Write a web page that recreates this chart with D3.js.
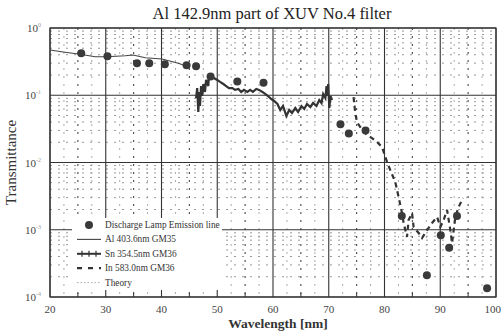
<!DOCTYPE html>
<html>
<head>
<meta charset="utf-8">
<script src="https://cdn.jsdelivr.net/npm/d3@7"></script>
<style>
  body { margin: 0; background: #fff; }
  svg { font-family: "Liberation Serif", "DejaVu Serif", serif; }
</style>
</head>
<body>
<svg width="501" height="336"></svg>
<script>
// discharge lamp emission lines (points)
let lampX = [25.6, 30.3, 35.6, 37.8, 40.6, 44.5, 46.2, 48.8, 53.6, 58.3, 72.1, 73.6, 76.6, 83.1, 87.6, 90.1, 91.6, 93.0, 98.4];
let lampY = [0.42, 0.38, 0.30, 0.30, 0.29, 0.28, 0.27, 0.19, 0.16, 0.154, 0.037, 0.027, 0.030, 0.0016, 0.00021, 0.00083, 0.00054, 0.0016, 0.000135];

// Al 403.6nm GM35
let alX = [20.0, 22.7, 25.4, 28.1, 30.2, 33.5, 34.9, 37.1, 40.1, 43.0, 44.8];
let alY = [0.471, 0.435, 0.406, 0.374, 0.374, 0.387, 0.397, 0.362, 0.346, 0.299, 0.266];

// Sn 354.5nm GM36
let snX = [46.2, 46.4, 46.6, 46.8, 46.9, 47.1, 47.3, 47.5, 47.8, 48.0, 48.4, 48.5, 48.9, 49.4, 50.0, 50.5, 51.1, 51.6, 52.1, 52.7, 53.2, 53.8, 54.3, 54.8, 55.4, 55.9, 56.4, 57.0, 57.5, 58.1, 58.6, 59.1, 59.7, 60.2, 60.8, 61.3, 61.8, 62.4, 62.9, 63.4, 64.0, 64.5, 65.1, 65.6, 66.1, 66.7, 67.2, 67.8, 68.3, 68.7, 69.0, 69.4, 69.6, 69.7, 69.9, 70.1, 70.3, 70.6];
let snY = [0.091, 0.128, 0.0564, 0.112, 0.0692, 0.137, 0.0977, 0.147, 0.112, 0.169, 0.137, 0.193, 0.200, 0.180, 0.169, 0.158, 0.147, 0.137, 0.128, 0.128, 0.120, 0.124, 0.112, 0.120, 0.112, 0.120, 0.112, 0.124, 0.120, 0.112, 0.1045, 0.0975, 0.0879, 0.0822, 0.0741, 0.0604, 0.0692, 0.0491, 0.0604, 0.0545, 0.0646, 0.0564, 0.0692, 0.0625, 0.0741, 0.0669, 0.0767, 0.0692, 0.0849, 0.0767, 0.1045, 0.091, 0.137, 0.0975, 0.147, 0.0646, 0.0975, 0.0849];

// In 583.0nm GM36
let inX = [74.45, 74.75, 75.06, 75.65, 76.86, 77.76, 78.65, 79.55, 80.45, 81.04, 81.94, 82.53, 83.14, 83.43, 84.04, 84.33, 84.94, 85.22, 86.12, 86.73, 87.63, 88.53, 89.43, 90.02, 90.61, 91.22, 91.81, 92.12, 92.71, 93.30, 93.91, 94.1];
let inY = [0.094, 0.0545, 0.040, 0.0337, 0.0256, 0.0231, 0.0202, 0.017, 0.0102, 0.0077, 0.0051, 0.00307, 0.00177, 0.00126, 0.00078, 0.0014, 0.00177, 0.0011, 0.000895, 0.000754, 0.00099, 0.00126, 0.00155, 0.0011, 0.0014, 0.00197, 0.00099, 0.000635, 0.00155, 0.00218, 0.00277, 0.00296];

let xTicks = [20, 30, 40, 50, 60, 70, 80, 90, 100];
let yTicks = [1, 0.1, 0.01, 0.001, 0.0001];
let yExp = ["0", "-1", "-2", "-3", "-4"];
let legendLabels = ["Discharge Lamp Emission line", "Al 403.6nm GM35", "Sn 354.5nm GM36", "In 583.0nm GM36", "Theory"];

let margin = {top: 28, right: 5, bottom: 39, left: 50},
    width = 501 - margin.left - margin.right,
    height = 336 - margin.top - margin.bottom;

let x = d3.scaleLinear().domain([20, 100]).range([0, width]);
let y = d3.scaleLog().domain([0.0001, 1]).range([height, 0]);

let svg = d3.select("svg");
let g = svg.append("g")
    .attr("transform", "translate(" + margin.left + "," + margin.top + ")");

// minor grid: every 2.5 nm, darker at the 5s
let minorX = d3.range(22.5, 100, 2.5).filter(function(v) { return v % 10 !== 0; });
g.selectAll(".mx").data(minorX).enter().append("line")
    .attr("x1", function(d) { return x(d); }).attr("x2", function(d) { return x(d); })
    .attr("y1", 0).attr("y2", height)
    .attr("stroke", function(d) { return d % 5 === 0 ? "#555" : "#aaa"; })
    .attr("stroke-width", function(d) { return d % 5 === 0 ? 1.2 : 1; })
    .attr("stroke-dasharray", "2,6");

let minorY = [];
yTicks.slice(1).forEach(function(t) {
  for (let k = 2; k <= 9; k++) minorY.push(t * k);
});
g.selectAll(".my").data(minorY).enter().append("line")
    .attr("x1", 0).attr("x2", width)
    .attr("y1", function(d) { return y(d); }).attr("y2", function(d) { return y(d); })
    .attr("stroke", "#999")
    .attr("stroke-dasharray", "2,6");

// major grid
g.selectAll(".gx").data(xTicks).enter().append("line")
    .attr("x1", function(d) { return x(d); }).attr("x2", function(d) { return x(d); })
    .attr("y1", 0).attr("y2", height)
    .attr("stroke", "#333").attr("stroke-width", 1.1);
g.selectAll(".gy").data(yTicks).enter().append("line")
    .attr("x1", 0).attr("x2", width)
    .attr("y1", function(d) { return y(d); }).attr("y2", function(d) { return y(d); })
    .attr("stroke", "#333").attr("stroke-width", 1.1);

g.append("rect").attr("width", width).attr("height", height)
    .attr("fill", "none").attr("stroke", "#333").attr("stroke-width", 1.2);

// bottom ticks
g.selectAll(".tk").data(d3.range(25, 100, 10)).enter().append("line")
    .attr("x1", function(d) { return x(d); }).attr("x2", function(d) { return x(d); })
    .attr("y1", height).attr("y2", height - 4)
    .attr("stroke", "#333");

// tick labels
g.selectAll(".xl").data(xTicks).enter().append("text")
    .attr("x", function(d) { return d === 100 ? 501 - margin.left : x(d); })
    .attr("y", height + 16)
    .attr("text-anchor", function(d) { return d === 100 ? "end" : "middle"; })
    .attr("font-size", 11).attr("fill", "#444")
    .text(function(d) { return d; });

let yl = g.selectAll(".yl").data(yTicks).enter().append("text")
    .attr("x", -9)
    .attr("y", function(d) { return y(d) + 4; })
    .attr("text-anchor", "end")
    .attr("font-size", 11).attr("fill", "#444");
yl.append("tspan").text("10");
yl.append("tspan").attr("dy", -5).attr("font-size", 6).attr("fill", "#999")
    .text(function(d, i) { return yExp[i]; });

// data lines
let line = d3.line()
    .x(function(d) { return x(d[0]); })
    .y(function(d) { return y(d[1]); });

g.append("path").datum(d3.zip(alX, alY))
    .attr("d", line).attr("fill", "none")
    .attr("stroke", "#444").attr("stroke-width", 1.1);

g.append("path").datum(d3.zip(snX, snY))
    .attr("d", line).attr("fill", "none")
    .attr("stroke", "#333").attr("stroke-width", 2.2);

g.append("path").datum(d3.zip(inX, inY))
    .attr("d", line).attr("fill", "none")
    .attr("stroke", "#333").attr("stroke-width", 2.2)
    .attr("stroke-dasharray", "5,4");

g.selectAll(".pt").data(d3.zip(lampX, lampY)).enter().append("circle")
    .attr("cx", function(d) { return x(d[0]); })
    .attr("cy", function(d) { return y(d[1]); })
    .attr("r", 4)
    .attr("fill", "#3a3a3a");

// legend
let lg = g.append("g").attr("transform", "translate(22,190)");
lg.append("rect").attr("x", 0).attr("y", 0).attr("width", 150).attr("height", 72).attr("fill", "#fff");
let rowH = 14.4;
lg.selectAll(".lt").data(legendLabels).enter().append("text")
    .attr("x", 33)
    .attr("y", function(d, i) { return 10 + i * rowH; })
    .attr("font-size", 9.3).attr("fill", "#333")
    .text(function(d) { return d; });
lg.append("circle").attr("cx", 17).attr("cy", 7).attr("r", 4).attr("fill", "#3a3a3a");
lg.append("line").attr("x1", 5).attr("x2", 29).attr("y1", 7 + rowH).attr("y2", 7 + rowH)
    .attr("stroke", "#444").attr("stroke-width", 1.1);
lg.append("line").attr("x1", 5).attr("x2", 29).attr("y1", 7 + 2 * rowH).attr("y2", 7 + 2 * rowH)
    .attr("stroke", "#333").attr("stroke-width", 2);
lg.selectAll(".mk").data([10, 17, 24]).enter().append("line")
    .attr("x1", function(d) { return d; }).attr("x2", function(d) { return d; })
    .attr("y1", 4 + 2 * rowH).attr("y2", 10 + 2 * rowH)
    .attr("stroke", "#333").attr("stroke-width", 1.2);
lg.append("line").attr("x1", 5).attr("x2", 29).attr("y1", 7 + 3 * rowH).attr("y2", 7 + 3 * rowH)
    .attr("stroke", "#333").attr("stroke-width", 2.2).attr("stroke-dasharray", "5,6");
lg.append("line").attr("x1", 5).attr("x2", 29).attr("y1", 7 + 4 * rowH).attr("y2", 7 + 4 * rowH)
    .attr("stroke", "#aaa").attr("stroke-width", 1).attr("stroke-dasharray", "1.5,2");

// titles
svg.append("text").attr("x", 272).attr("y", 19)
    .attr("text-anchor", "middle").attr("font-size", 16.5).attr("fill", "#222")
    .text("Al 142.9nm part of XUV No.4 filter");
svg.append("text").attr("x", 278).attr("y", 328)
    .attr("text-anchor", "middle").attr("font-size", 13.5).attr("font-weight", "bold").attr("fill", "#333")
    .text("Wavelength [nm]");
svg.append("text")
    .attr("transform", "translate(16," + (margin.top + height / 2) + ") rotate(-90)")
    .attr("text-anchor", "middle").attr("font-size", 15).attr("fill", "#333")
    .text("Transmittance");
</script>
</body>
</html>
